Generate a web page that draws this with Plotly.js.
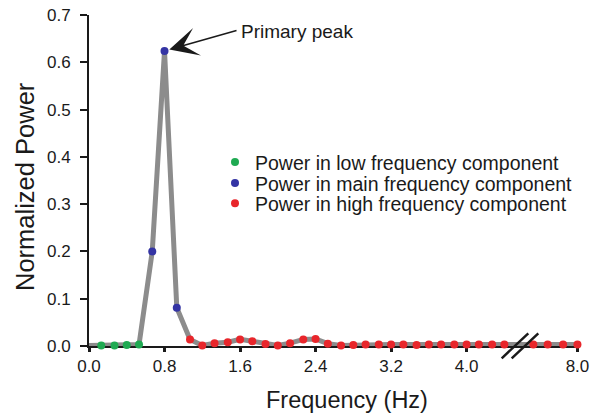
<!DOCTYPE html>
<html>
<head>
<meta charset="utf-8">
<script src="https://cdn.plot.ly/plotly-3.0.1.min.js"></script>
<style>
  html, body { margin: 0; padding: 0; background: #ffffff; }
  #chart { width: 601px; height: 417px; }
</style>
</head>
<body>
<div id="chart"></div>
<script>
// ---- data ----
const lineStartFreq = [0.00];
const lineStartPower = [0.001];

const freqLow = [0.13, 0.27, 0.40, 0.53];
const powerLow = [0.001, 0.001, 0.002, 0.003];

const freqMain = [0.67, 0.80, 0.93];
const powerMain = [0.200, 0.624, 0.081];

const freqHigh = [1.07, 1.20, 1.33, 1.47, 1.60, 1.73, 1.87, 2.00, 2.13, 2.27,
                  2.40, 2.53, 2.67, 2.80, 2.93, 3.07, 3.20, 3.33, 3.47, 3.60,
                  3.73, 3.87, 4.00, 4.13, 4.27, 4.40, 7.60, 7.73, 7.87, 8.00];
const powerHigh = [0.014, 0.001, 0.006, 0.008, 0.014, 0.010, 0.004, 0.001, 0.006, 0.014,
                   0.015, 0.005, 0.001, 0.002, 0.003, 0.003, 0.003, 0.003, 0.002, 0.003,
                   0.003, 0.003, 0.003, 0.003, 0.003, 0.003, 0.003, 0.003, 0.003, 0.003];

const xTicksLeft = [0.0, 0.8, 1.6, 2.4, 3.2, 4.0];
const xTicksRight = [8.0];
const yTicks = [0.0, 0.1, 0.2, 0.3, 0.4, 0.5, 0.6, 0.7];

const seriesNames = ['Power in low frequency component',
                     'Power in main frequency component',
                     'Power in high frequency component'];

// ---- build traces ----
const allFreq = lineStartFreq.concat(freqLow, freqMain, freqHigh);
const allPower = lineStartPower.concat(powerLow, powerMain, powerHigh);

const BREAK = 5.0;
const hiA = freqHigh.map((f, i) => [f, powerHigh[i]]).filter(p => p[0] < BREAK);
const hiB = freqHigh.map((f, i) => [f, powerHigh[i]]).filter(p => p[0] > BREAK);

const FONT = 'Liberation Sans, Arial, Helvetica, sans-serif';
const INK = '#1a1a1a';
const GRAY = '#8c8c8c';
const GREEN = '#1faa52';
const BLUE = '#3434a4';
const RED = '#e8262b';
const MS = 8;

const traces = [
  { x: allFreq, y: allPower, xaxis: 'x', yaxis: 'y', mode: 'lines',
    line: { color: GRAY, width: 5 }, showlegend: false, hoverinfo: 'skip' },
  { x: allFreq, y: allPower, xaxis: 'x2', yaxis: 'y', mode: 'lines',
    line: { color: GRAY, width: 5 }, showlegend: false, hoverinfo: 'skip' },
  { x: freqLow, y: powerLow, xaxis: 'x', yaxis: 'y', mode: 'markers', name: seriesNames[0],
    marker: { color: GREEN, size: MS }, cliponaxis: false, legend: 'legend' },
  { x: freqMain, y: powerMain, xaxis: 'x', yaxis: 'y', mode: 'markers', name: seriesNames[1],
    marker: { color: BLUE, size: MS }, cliponaxis: false, legend: 'legend2' },
  { x: hiA.map(p => p[0]), y: hiA.map(p => p[1]), xaxis: 'x', yaxis: 'y', mode: 'markers',
    name: seriesNames[2], marker: { color: RED, size: MS }, cliponaxis: false, legend: 'legend3' },
  { x: hiB.map(p => p[0]), y: hiB.map(p => p[1]), xaxis: 'x2', yaxis: 'y', mode: 'markers',
    name: seriesNames[2], marker: { color: RED, size: MS }, cliponaxis: false, showlegend: false }
];

// ---- layout ----
const L = 89, R = 23, T = 15, B = 71, W = 601, H = 417;
const PW = W - L - R, PH = H - T - B;
const px2x = px => (px - L) / PW;
const py2y = py => (H - B - py) / PH;

const splitFrac = px2x(519);

const axisCommon = {
  showline: true, linecolor: INK, linewidth: 2,
  ticks: 'outside', tickcolor: INK,
  showgrid: false, zeroline: false, fixedrange: true,
  tickfont: { family: FONT, size: 17, color: INK },
  layer: 'below traces'
};

const legendCommon = {
  font: { family: FONT, size: 19.5, color: INK },
  bgcolor: 'rgba(0,0,0,0)', borderwidth: 0,
  xanchor: 'left', yanchor: 'middle', x: px2x(215)
};

const layout = {
  width: W, height: H,
  margin: { l: L, r: R, t: T, b: B, pad: 0 },
  paper_bgcolor: '#ffffff', plot_bgcolor: '#ffffff',
  font: { family: FONT, color: INK },
  xaxis: Object.assign({}, axisCommon, {
    domain: [0, splitFrac], range: [0, 4.555], anchor: 'y',
    tickvals: xTicksLeft, tickformat: '.1f', ticklen: 4, tickwidth: 3
  }),
  xaxis2: Object.assign({}, axisCommon, {
    domain: [splitFrac, 1], range: [7.47, 8.005], anchor: 'y',
    tickvals: xTicksRight, tickformat: '.1f', ticklen: 4, tickwidth: 3
  }),
  yaxis: Object.assign({}, axisCommon, {
    range: [0, 0.7], tickvals: yTicks, tickformat: '.1f', ticklen: 7, tickwidth: 2,
    ticklabelstandoff: 6
  }),
  legend: Object.assign({}, legendCommon, { y: py2y(162.3) }),
  legend2: Object.assign({}, legendCommon, { y: py2y(183.3) }),
  legend3: Object.assign({}, legendCommon, { y: py2y(203.5) }),
  annotations: [
    { xref: 'x', yref: 'y', x: 0.80, y: 0.624, text: '', showarrow: true,
      ax: 73.5, ay: -20.8, axref: 'pixel', ayref: 'pixel',
      arrowhead: 3, arrowsize: 3.2, arrowwidth: 1.5, arrowcolor: INK, standoff: 5 },
    { xref: 'paper', yref: 'paper', x: px2x(239), y: py2y(31), xanchor: 'left', yanchor: 'middle',
      text: 'Primary peak', showarrow: false, font: { family: FONT, size: 19, color: INK } },
    { xref: 'paper', yref: 'paper', x: px2x(346.5), y: py2y(400), xanchor: 'center', yanchor: 'middle',
      text: 'Frequency (Hz)', showarrow: false, font: { family: FONT, size: 23.5, color: INK } },
    { xref: 'paper', yref: 'paper', x: px2x(25), y: py2y(187), xanchor: 'center', yanchor: 'middle',
      text: 'Normalized Power', textangle: -90, showarrow: false,
      font: { family: FONT, size: 25.5, color: INK } }
  ],
  shapes: [
    { type: 'line', xref: 'paper', yref: 'paper', layer: 'above',
      x0: px2x(501.7), y0: py2y(358.3), x1: px2x(528.3), y1: py2y(333.3),
      line: { color: INK, width: 2.5 } },
    { type: 'line', xref: 'paper', yref: 'paper', layer: 'above',
      x0: px2x(511.7), y0: py2y(358.3), x1: px2x(538.3), y1: py2y(333.3),
      line: { color: INK, width: 2.5 } }
  ]
};

Plotly.newPlot('chart', traces, layout, { staticPlot: true, displayModeBar: false });
</script>
</body>
</html>
